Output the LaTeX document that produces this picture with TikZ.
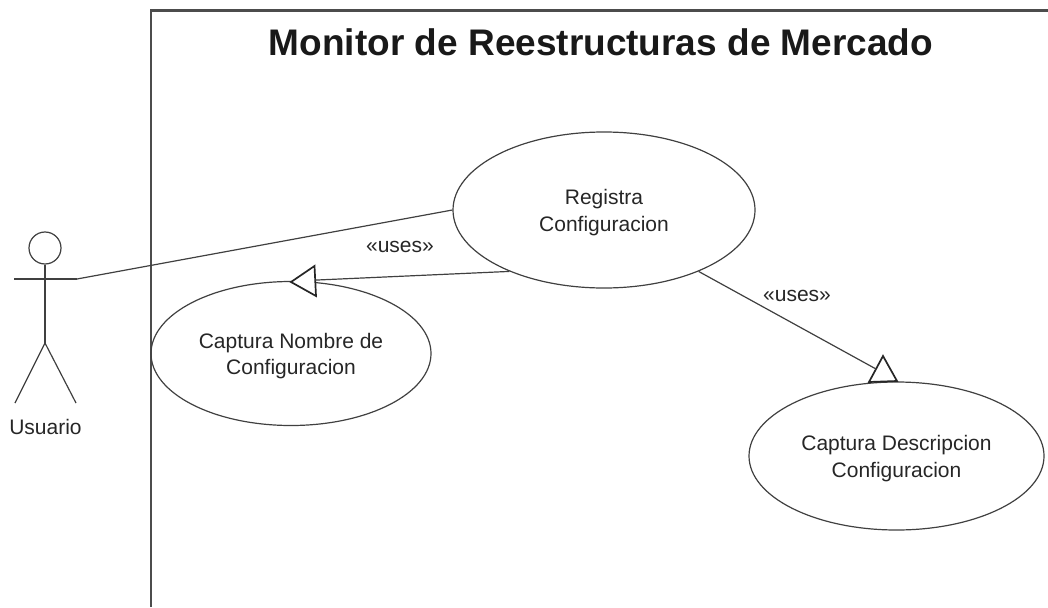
\documentclass[tikz,border=0pt]{standalone}
\usepackage{fontspec}
\setmainfont{Liberation Sans}
\usetikzlibrary{shapes.geometric, calc}
\newcommand{\toplift}{\rule{0pt}{20pt}}
\tikzset{
	link/.style={line width=1.2pt, draw=black!75},
	usecase/.style={link, ellipse, inner sep=0pt, align=center, text=black!85, font=\fontsize{21}{26.5}\selectfont},
	stereo/.style={text=black!85, font=\fontsize{21}{26}\selectfont},
	tip/.style={line width=1.7pt, draw=black!85}
}
\begin{document}
\begin{tikzpicture}[x=1pt, y=-1pt]
	\useasboundingbox (0,0) rectangle (1048,607);

	% Frame
	\draw[line width=2.2pt, black!70] (151,607) -- (151,10.5) -- (1048,10.5);
	\node[font=\bfseries\fontsize{37}{44}\selectfont, text=black!90] (title) at (601,42) {Monitor de Reestructuras de Mercado};

	% Use cases
	\node[usecase, minimum width=302pt, minimum height=156pt] (registra) at (604,210) {\toplift Registra\\Configuracion};
	\node[usecase, minimum width=280pt, minimum height=144pt] (nombre) at (291,353.5) {\toplift Captura Nombre de\\Configuracion};
	\node[usecase, minimum width=295pt, minimum height=148pt] (descripcion) at (896.5,456) {\toplift Captura Descripcion\\Configuracion};

	% Actor
	\node[link, circle, minimum size=32pt, inner sep=0pt] (head) at (45,248) {};
	\coordinate (hip) at (45,343);
	\coordinate (handl) at (14,279);
	\coordinate (handr) at (77,279);
	\coordinate (footl) at (15,403);
	\coordinate (footr) at (76,403);
	\draw[link] (head) -- (hip);
	\draw[link] (handl) -- (handr);
	\draw[link] (footl) -- (hip) -- (footr);
	\node[stereo] (usuario) at (45.5,427) {Usuario};

	% Associations
	\draw[link] (handr) -- (registra.west);
	\node[stereo] (uses1) at (400,247) {«uses»};
	\node[stereo] (uses2) at (797,296) {«uses»};

	% Generalisations
	\coordinate (tipa) at (291,282);
	\coordinate (tipb) at (314.5,266);
	\coordinate (tipc) at (316,296);
	\coordinate (tipd) at (869,382);
	\coordinate (tipe) at (883,356);
	\coordinate (tipf) at (897,381);
	\draw[tip, fill=white] (tipa) -- (tipb) -- (tipc) -- cycle;
	\draw[tip, fill=white] (tipd) -- (tipe) -- (tipf) -- cycle;
	\draw[link] (registra.213) -- ($(tipb)!0.47!(tipc)$);
	\draw[link] (registra.-33) -- ($(tipd)!0.5!(tipe)$);
\end{tikzpicture}
\end{document}
